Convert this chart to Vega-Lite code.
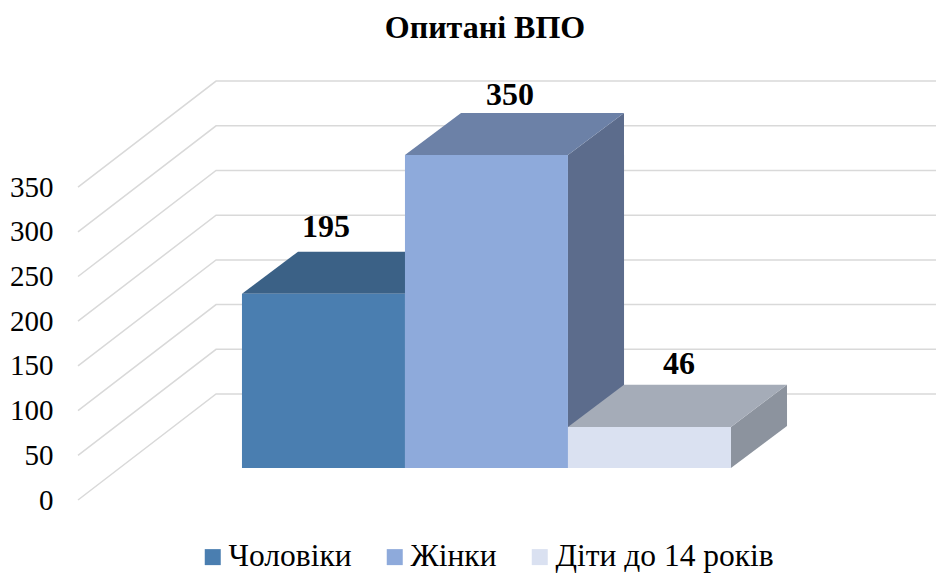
{
"$schema":"https://vega.github.io/schema/vega-lite/v6.json",
"width":858,"height":440,
"autosize":"none",
"padding":{"left":78,"top":60,"right":0,"bottom":73},
"background":"#ffffff",
"config":{"view":{"stroke":null},"font":"Liberation Serif"},
"title":{"text":"Опитані ВПО","font":"Liberation Serif","fontSize":32,"fontWeight":"bold","color":"#000000","anchor":"middle","dx":-22,"offset":15},
"datasets":{
"grid":[
{"level":0,"x":0,"y":0},{"level":0,"x":0.847,"y":118.6},{"level":0,"x":5.264,"y":118.6},
{"level":50,"x":0,"y":50},{"level":50,"x":0.847,"y":168.6},{"level":50,"x":5.264,"y":168.6},
{"level":100,"x":0,"y":100},{"level":100,"x":0.847,"y":218.6},{"level":100,"x":5.264,"y":218.6},
{"level":150,"x":0,"y":150},{"level":150,"x":0.847,"y":268.6},{"level":150,"x":5.264,"y":268.6},
{"level":200,"x":0,"y":200},{"level":200,"x":0.847,"y":318.6},{"level":200,"x":5.264,"y":318.6},
{"level":250,"x":0,"y":250},{"level":250,"x":0.847,"y":368.6},{"level":250,"x":5.264,"y":368.6},
{"level":300,"x":0,"y":300},{"level":300,"x":0.847,"y":418.6},{"level":300,"x":5.264,"y":418.6},
{"level":350,"x":0,"y":350},{"level":350,"x":0.847,"y":468.6},{"level":350,"x":5.264,"y":468.6}
],
"front":[
{"series":"Чоловіки","value":195,"x0":1.006,"x1":2.006,"base":35.8,"top":230.8,"lx":1.521,"ly":305.4},
{"series":"Жінки","value":350,"x0":2.006,"x1":3.006,"base":35.8,"top":385.8,"lx":2.65,"ly":453},
{"series":"Діти до 14 років","value":46,"x0":3.006,"x1":4.006,"base":35.8,"top":81.8,"lx":3.687,"ly":152}
],
"side":[
{"series":"Чоловіки","x":2.006,"low":35.8,"high":230.8},{"series":"Чоловіки","x":2.35,"low":82.8,"high":277.8},
{"series":"Жінки","x":3.006,"low":35.8,"high":385.8},{"series":"Жінки","x":3.35,"low":82.8,"high":432.8},
{"series":"Діти до 14 років","x":4.006,"low":35.8,"high":81.8},{"series":"Діти до 14 років","x":4.35,"low":82.8,"high":128.8}
],
"cap":[
{"series":"Чоловіки","y":230.8,"xa":1.006,"xb":2.006},{"series":"Чоловіки","y":277.8,"xa":1.35,"xb":2.35},
{"series":"Жінки","y":385.8,"xa":2.006,"xb":3.006},{"series":"Жінки","y":432.8,"xa":2.35,"xb":3.35},
{"series":"Діти до 14 років","y":81.8,"xa":3.006,"xb":4.006},{"series":"Діти до 14 років","y":128.8,"xa":3.35,"xb":4.35}
]
},
"encoding":{
  "y":{"type":"quantitative","scale":{"domain":[0,492.2],"nice":false,"zero":false},
   "axis":{"title":null,"values":[0,50,100,150,200,250,300,350],"domain":false,"ticks":false,"grid":false,"labelPadding":25,"labelFontSize":29,"labelFont":"Liberation Serif","labelColor":"#000000"}}
},
"resolve":{"scale":{"color":"independent"}},
"layer":[
{"data":{"name":"grid"},"mark":{"type":"line","color":"#d9d9d9","strokeWidth":1.5},
 "encoding":{
  "x":{"field":"x","type":"quantitative","scale":{"domain":[0,5.264],"nice":false,"zero":false},"axis":null},
  "y":{"field":"y"},
  "detail":{"field":"level"}}},
{"data":{"name":"side"},"mark":{"type":"area"},
 "encoding":{
  "x":{"field":"x","type":"quantitative","scale":{"domain":[0,5.264],"nice":false,"zero":false},"axis":null},
  "y":{"field":"high"},
  "y2":{"field":"low"},
  "color":{"field":"series","type":"nominal","legend":null,"scale":{"domain":["Чоловіки","Жінки","Діти до 14 років"],"range":["#355876","#5c6c8c","#8c939e"]}}}},
{"data":{"name":"cap"},"mark":{"type":"area","orient":"horizontal"},
 "encoding":{
  "y":{"field":"y"},
  "x":{"field":"xa","type":"quantitative","scale":{"domain":[0,5.264],"nice":false,"zero":false},"axis":null},
  "x2":{"field":"xb"},
  "color":{"field":"series","type":"nominal","legend":null,"scale":{"domain":["Чоловіки","Жінки","Діти до 14 років"],"range":["#3b6186","#6c81a7","#a5acb8"]}}}},
{"data":{"name":"front"},"mark":{"type":"rect"},
 "encoding":{
  "x":{"field":"x0","type":"quantitative","scale":{"domain":[0,5.264],"nice":false,"zero":false},"axis":null},
  "x2":{"field":"x1"},
  "y":{"field":"top"},
  "y2":{"field":"base"},
  "color":{"field":"series","type":"nominal","sort":null,
   "scale":{"domain":["Чоловіки","Жінки","Діти до 14 років"],"range":["#4a7eb0","#8eaadb","#dae1f1"]},
   "legend":{"title":null,"orient":"none","direction":"horizontal","legendX":119,"legendY":481,"symbolType":"square","symbolSize":256,"symbolStrokeWidth":0,"labelFont":"Liberation Serif","labelFontSize":31.5,"labelColor":"#000000","labelOffset":0,"columnPadding":27,"labelLimit":400,"padding":0}}}},
{"data":{"name":"front"},"mark":{"type":"text","font":"Liberation Serif","fontSize":32,"fontWeight":"bold","color":"#000000","align":"center","baseline":"middle"},
 "encoding":{
  "x":{"field":"lx","type":"quantitative","scale":{"domain":[0,5.264],"nice":false,"zero":false},"axis":null},
  "y":{"field":"ly"},
  "text":{"field":"value","type":"quantitative"}}}
]
}
